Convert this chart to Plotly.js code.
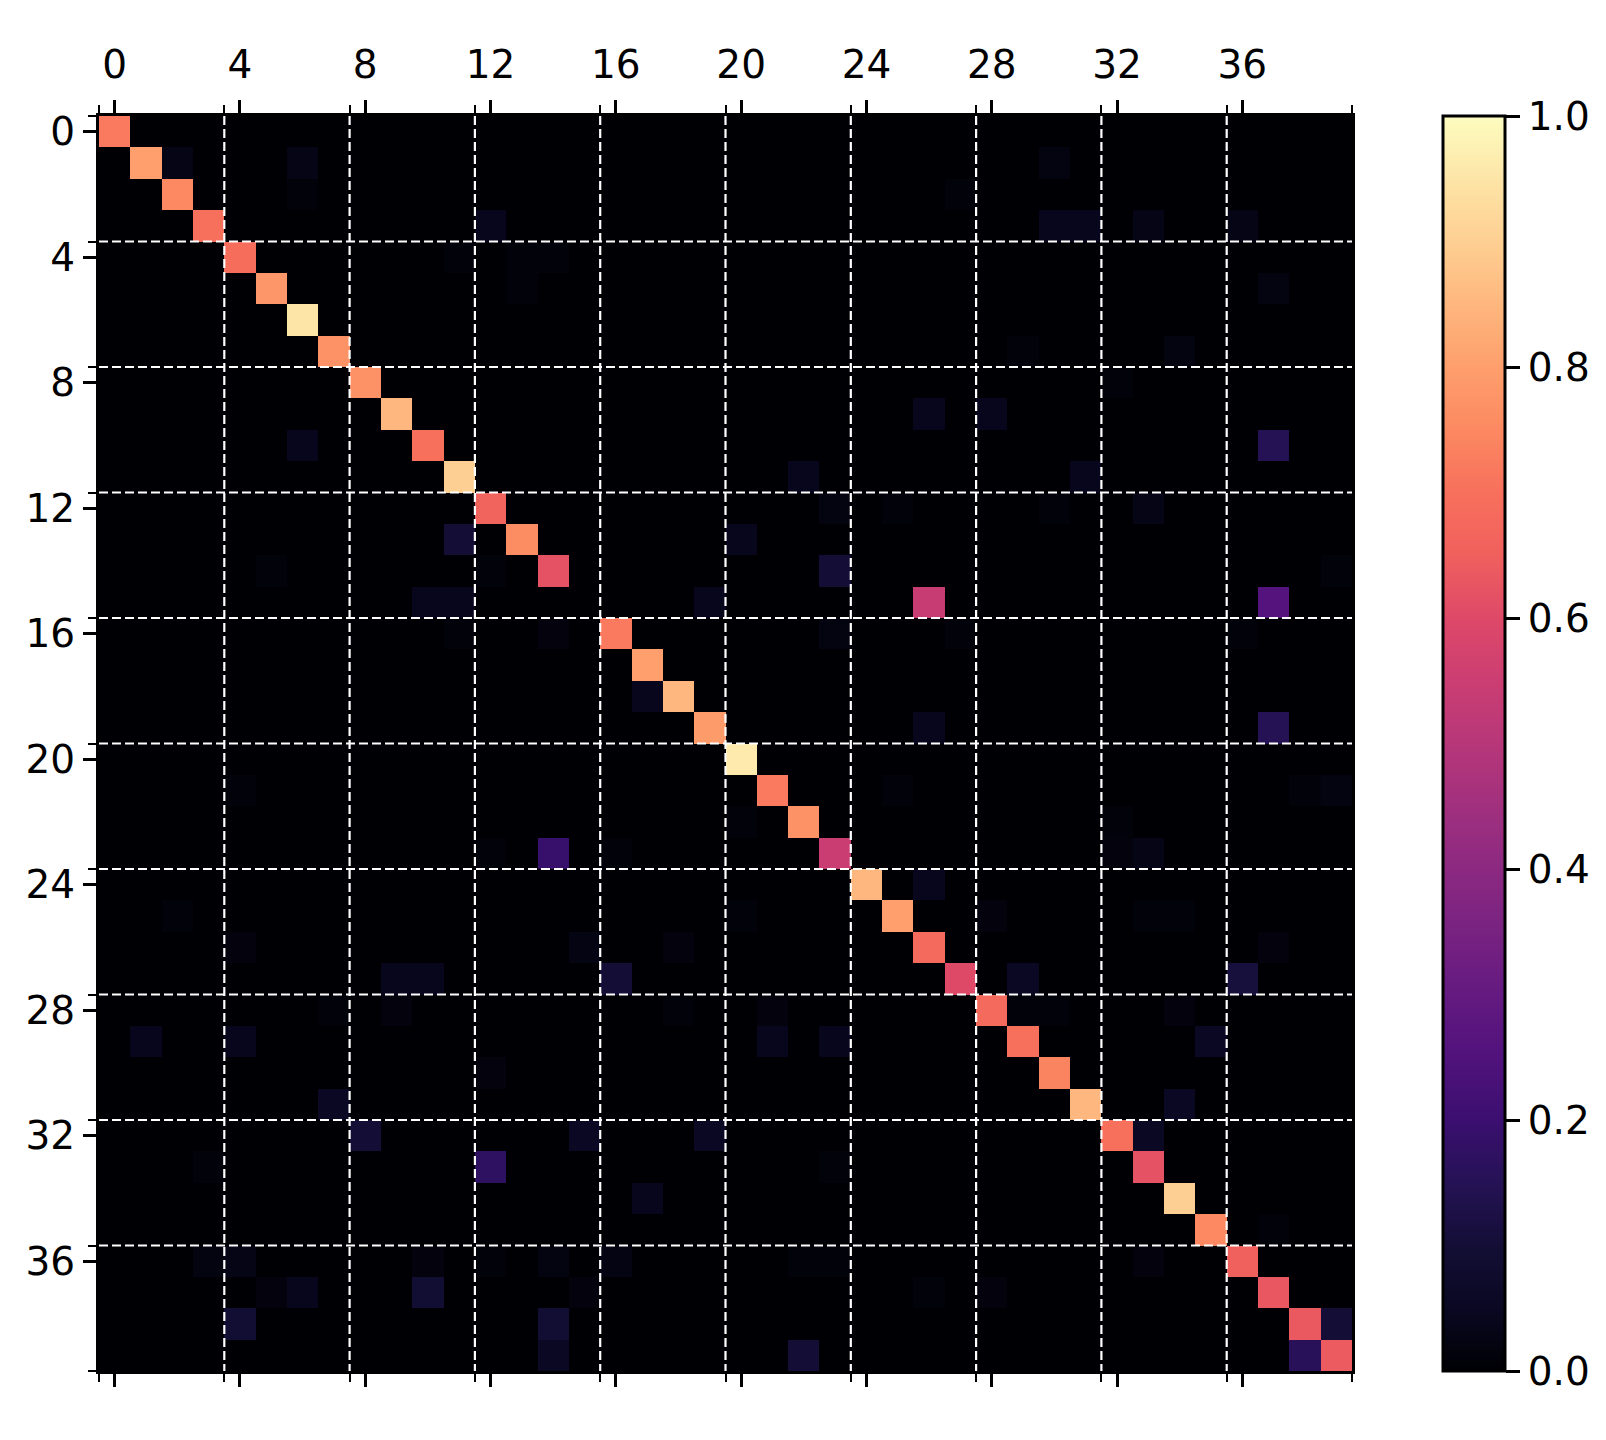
<!DOCTYPE html>
<html>
<head>
<meta charset="utf-8">
<script src="https://cdn.plot.ly/plotly-3.0.1.min.js"></script>
<style>
  html, body { margin: 0; padding: 0; background: #ffffff; }
  #chart { width: 1606px; height: 1440px; }
</style>
</head>
<body>
<div id="chart"></div>
<script>
// ---- data -------------------------------------------------------------
const classIdx = Array.from({length: 40}, (_, i) => i);
const tickVals = [0, 4, 8, 12, 16, 20, 24, 28, 32, 36];
const tickText = ["0", "4", "8", "12", "16", "20", "24", "28", "32", "36"];
const cbTickVals = [0, 0.2, 0.4, 0.6, 0.8, 1.0];
const cbTickText = ["0.0", "0.2", "0.4", "0.6", "0.8", "1.0"];

// diagonal (per-class recall) values, row i col i
const diagVals = [
  0.72, 0.80, 0.75, 0.70, 0.69, 0.78, 0.95, 0.77, 0.77, 0.85,
  0.70, 0.90, 0.66, 0.76, 0.62, 0.00, 0.72, 0.80, 0.85, 0.79,
  0.96, 0.72, 0.77, 0.545, 0.85, 0.80, 0.68, 0.60, 0.68, 0.70,
  0.74, 0.85, 0.70, 0.62, 0.90, 0.75, 0.65, 0.63, 0.635, 0.64
];

// off-diagonal confusions: row (true), col (predicted), value
const offRows = [
  1, 1, 1, 2, 2, 3, 3, 3, 3, 3, 4, 4, 4, 5, 5, 7, 7, 8, 9, 9,
  10, 10, 11, 11, 12, 12, 12, 12, 13, 13, 14, 14, 14, 14,
  15, 15, 15, 15, 15, 16, 16, 16, 16, 16, 18, 19, 19,
  21, 21, 21, 21, 22, 22, 23, 23, 23, 23, 23, 24,
  25, 25, 25, 25, 25, 26, 26, 26, 26, 27, 27, 27, 27, 27,
  28, 28, 28, 28, 28, 28, 28, 29, 29, 29, 29, 29, 30, 31, 31,
  32, 32, 32, 32, 33, 33, 33, 34, 35,
  36, 36, 36, 36, 36, 36, 36, 36, 36,
  37, 37, 37, 37, 37, 37, 38, 38, 38, 39, 39, 39
];
const offCols = [
  2, 6, 30, 6, 27, 12, 30, 31, 33, 36, 11, 13, 14, 13, 37, 29, 34, 32, 26, 28,
  6, 37, 22, 31, 23, 25, 30, 33, 11, 20, 5, 12, 23, 39,
  10, 11, 19, 26, 37, 11, 14, 23, 27, 36, 17, 26, 37,
  4, 25, 38, 39, 20, 32, 12, 14, 16, 32, 33, 26,
  2, 20, 28, 33, 34, 4, 15, 18, 37, 9, 10, 16, 29, 36,
  7, 9, 18, 21, 29, 30, 34, 1, 4, 21, 23, 35, 12, 7, 34,
  8, 15, 19, 33, 3, 12, 23, 17, 37,
  3, 4, 10, 12, 14, 16, 22, 23, 33,
  5, 6, 10, 15, 26, 28, 4, 14, 39, 14, 22, 38
];
const offVals = [
  0.03, 0.03, 0.02, 0.01, 0.01, 0.04, 0.04, 0.04, 0.03, 0.03, 0.01, 0.01, 0.01, 0.01, 0.02, 0.01, 0.02, 0.01, 0.04, 0.04,
  0.04, 0.15, 0.04, 0.04, 0.02, 0.01, 0.01, 0.03, 0.10, 0.04, 0.01, 0.01, 0.10, 0.01,
  0.04, 0.04, 0.04, 0.54, 0.26, 0.01, 0.015, 0.02, 0.01, 0.01, 0.04, 0.04, 0.15,
  0.01, 0.01, 0.01, 0.02, 0.01, 0.01, 0.01, 0.19, 0.01, 0.015, 0.03, 0.04,
  0.01, 0.01, 0.015, 0.01, 0.01, 0.015, 0.025, 0.015, 0.015, 0.04, 0.04, 0.10, 0.05, 0.11,
  0.01, 0.015, 0.01, 0.015, 0.01, 0.01, 0.015, 0.04, 0.04, 0.04, 0.04, 0.05, 0.015, 0.05, 0.05,
  0.10, 0.05, 0.05, 0.05, 0.01, 0.17, 0.01, 0.04, 0.01,
  0.02, 0.03, 0.015, 0.01, 0.02, 0.025, 0.01, 0.01, 0.015,
  0.015, 0.04, 0.09, 0.015, 0.01, 0.015, 0.09, 0.09, 0.10, 0.05, 0.10, 0.16
];

// ---- build matrix -------------------------------------------------------
const z = classIdx.map(r => classIdx.map(c => (r === c ? diagVals[r] : 0)));
offRows.forEach((r, k) => { z[r][offCols[k]] = offVals[k]; });

// matplotlib "magma" colormap
const magma = [
  [0.00, '#000004'], [0.05, '#0a0822'], [0.10, '#140e36'], [0.15, '#251255'],
  [0.20, '#3b0f70'], [0.25, '#51127c'], [0.30, '#641a80'], [0.35, '#782281'],
  [0.40, '#8c2981'], [0.45, '#a1307e'], [0.50, '#b73779'], [0.55, '#cb3e72'],
  [0.60, '#de4968'], [0.65, '#f0605d'], [0.70, '#f7705c'], [0.75, '#fc8961'],
  [0.80, '#fe9f6d'], [0.85, '#feb77e'], [0.90, '#fecf92'], [0.95, '#fde5a7'],
  [1.00, '#fcfdbf']
];

const FONT = {family: 'DejaVu Sans, sans-serif', size: 39, color: '#000000'};

// dashed white separators between groups of 4 classes
const shapes = [];
for (let k = 1; k < 10; k++) {
  const p = 4 * k - 0.5;
  const line = {color: '#ffffff', width: 2.2, dash: '9px,4px'};
  shapes.push({type: 'line', xref: 'x', yref: 'y', x0: p, x1: p, y0: -0.5, y1: 39.5, line, layer: 'above'});
  shapes.push({type: 'line', xref: 'x', yref: 'y', x0: -0.5, x1: 39.5, y0: p, y1: p, line, layer: 'above'});
}

const trace = {
  type: 'heatmap',
  z: z,
  x: classIdx,
  y: classIdx,
  colorscale: magma,
  zmin: 0,
  zmax: 1,
  hoverongaps: false,
  colorbar: {
    x: 1.0726, xanchor: 'left', xref: 'paper',
    y: 0.5, yanchor: 'middle', len: 1, lenmode: 'fraction',
    thickness: 62, thicknessmode: 'pixels',
    xpad: 0, ypad: 0,
    outlinewidth: 3, outlinecolor: '#000000',
    ticks: 'outside', ticklen: 14, tickwidth: 3, tickcolor: '#000000',
    tickmode: 'array', tickvals: cbTickVals, ticktext: cbTickText,
    ticklabelstandoff: 2,
    tickfont: FONT
  }
};

const minor = {tickmode: 'linear', tick0: -0.5, dtick: 4, ticks: 'outside',
               ticklen: 8, tickwidth: 2, tickcolor: '#000000', showgrid: false};

const layout = {
  width: 1606,
  height: 1440,
  margin: {l: 99, r: 254, t: 116, b: 69, pad: 0},
  paper_bgcolor: '#ffffff',
  plot_bgcolor: '#000000',
  font: FONT,
  showlegend: false,
  xaxis: {
    side: 'top', range: [-0.5, 39.5],
    tickmode: 'array', tickvals: tickVals, ticktext: tickText,
    ticks: 'outside', ticklen: 13, tickwidth: 3, tickcolor: '#000000',
    ticklabelstandoff: 6,
    showline: true, linecolor: '#000000', linewidth: 3, mirror: 'ticks',
    showgrid: false, zeroline: false, minor: minor, tickfont: FONT
  },
  yaxis: {
    range: [39.5, -0.5],
    tickmode: 'array', tickvals: tickVals, ticktext: tickText,
    ticks: 'outside', ticklen: 13, tickwidth: 3, tickcolor: '#000000',
    showline: true, linecolor: '#000000', linewidth: 3, mirror: true,
    showgrid: false, zeroline: false, minor: minor, tickfont: FONT
  },
  shapes: shapes
};

Plotly.newPlot('chart', [trace], layout, {displayModeBar: false, staticPlot: true});
</script>
</body>
</html>
